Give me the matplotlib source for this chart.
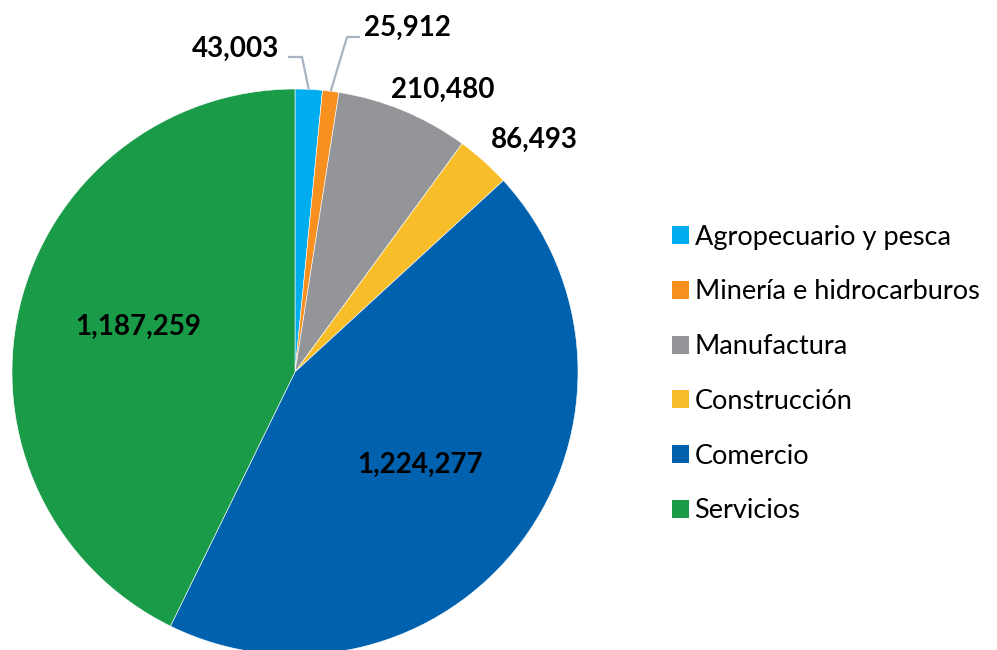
import numpy as np
import matplotlib.pyplot as plt
from matplotlib.patches import Patch

# Empleo por sector
sectores = ['Agropecuario y pesca', 'Minería e hidrocarburos', 'Manufactura',
            'Construcción', 'Comercio', 'Servicios']
valores = [43003, 25912, 210480, 86493, 1224277, 1187259]
colores = ['#00AEEF', '#F7901E', '#939598', '#F8BE2A', '#0061AE', '#1A9B48']

plt.rcParams['font.family'] = ['Lato', 'DejaVu Sans']

W, H = 997, 650
fig = plt.figure(figsize=(W / 100, H / 100), dpi=100)

# pie axes placed in pixel terms: centre (295, 372), radius 283
cx, cy, r = 295, 372, 283
ax = fig.add_axes([(cx - r) / W, (H - cy - r) / H, 2 * r / W, 2 * r / H])
wedges, _ = ax.pie(valores, colors=colores, startangle=90, counterclock=False,
                   radius=1, wedgeprops=dict(linewidth=0.4, edgecolor='white'))
ax.set_xlim(-1, 1)
ax.set_ylim(-1, 1)
ax.set_aspect('equal')
ax.axis('off')


def px(x, y):
    # figure pixel (from top-left) -> pie data coords
    return (x - cx) / r, (cy - y) / r


def borde(i):
    # point on the rim in the middle of wedge i
    w = wedges[i]
    a = np.deg2rad((w.theta1 + w.theta2) / 2)
    return np.cos(a), np.sin(a)


fmt = lambda v: f'{v:,}'
lab_kw = dict(fontsize=20, fontweight='bold', color='black', ha='center', va='center')
guia = dict(color='#A9B4C2', lw=1.6, solid_capstyle='butt')

ax.text(*px(236, 49), fmt(valores[0]), **lab_kw)
ax.text(*px(407, 28), fmt(valores[1]), **lab_kw)
ax.text(*px(443, 90), fmt(valores[2]), **lab_kw)
ax.text(*px(534, 140), fmt(valores[3]), **lab_kw)
ax.text(*px(420, 465), fmt(valores[4]), **lab_kw)
ax.text(*px(138, 327), fmt(valores[5]), **lab_kw)

# leader lines for the two thin slices
for i, (p0, p1) in enumerate([((288, 57), (302, 57)), ((360, 37), (347, 37))]):
    ex, ey = borde(i)
    a, b = px(*p0), px(*p1)
    ax.plot([a[0], b[0], ex], [a[1], b[1], ey], clip_on=False, **guia)

handles = [Patch(facecolor=c, edgecolor='none') for c in colores]
fig.legend(handles, sectores, loc='center left', bbox_to_anchor=(658 / W, (H - 374) / H),
           frameon=False, fontsize=19.5, handlelength=0.65, handleheight=0.65,
           handletextpad=0.2, labelspacing=1.1, borderpad=0)

fig.savefig('out.png', dpi=100)
